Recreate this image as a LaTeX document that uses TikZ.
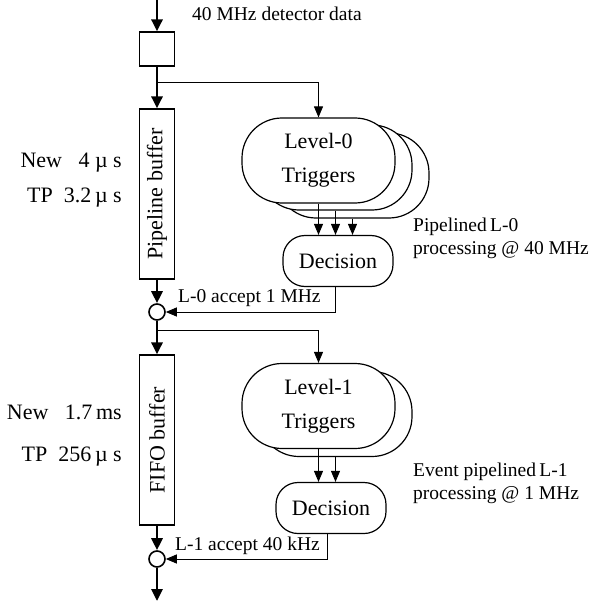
\documentclass[tikz,border=0pt]{standalone}
\usepackage{fontspec}
\setmainfont{Liberation Serif}
\usetikzlibrary{positioning,arrows.meta}

\tikzset{
  bigarrow/.style={line width=2.8pt,-{Triangle[length=12pt,width=11pt]}},
  thinarrow/.style={line width=1pt,-{Triangle[length=11pt,width=9pt]}},
  bufbox/.style={draw,line width=1.2pt,minimum width=35pt,minimum height=170pt,inner sep=0pt,font=\fontsize{22}{24}\selectfont},
  trigbox/.style={draw,line width=1.2pt,fill=white,rounded corners=40pt,minimum width=153pt,minimum height=85pt,align=center,font=\fontsize{22}{34}\selectfont},
  decbox/.style={draw,line width=1.2pt,rounded corners=22pt,minimum width=110pt,minimum height=51pt,font=\fontsize{22}{24}\selectfont},
  sumnode/.style={draw,circle,line width=1.6pt,minimum size=16pt,inner sep=0pt},
  smalllab/.style={font=\fontsize{19.5}{23}\selectfont,inner sep=0pt},
  sidelab/.style={font=\fontsize{22}{24}\selectfont,inner sep=0pt,anchor=east}
}

\begin{document}
\begin{tikzpicture}[x=1pt,y=-1pt]
      \useasboundingbox (0,0) rectangle (593,604);
      % main chain (buffers)
      \coordinate (din) at (157,0);
      \node[draw,line width=1.2pt,minimum width=35pt,minimum height=34pt] (mux) at (157,49) {};
      \node[bufbox] (pipe) at (157,194) {\rotatebox{90}{Pipeline buffer}};
      \node[sumnode] (sum0) at (157,312) {};
      \node[bufbox] (fifo) at (157,440) {\rotatebox{90}{FIFO buffer}};
      \node[sumnode] (sum1) at (157,559) {};
      \coordinate (dout) at (157,601);
      \coordinate (br0) at (157,83);
      \coordinate (br1) at (157,330);

      % level-0 (three stacked boxes)
      \node[trigbox] (trig0c) at (352.5,175.5) {};
      \node[trigbox] (trig0b) at (335.5,167.5) {};
      \node[trigbox] (trig0) at (318.5,160.5) {Level-0\\Triggers};
      \node[decbox] (dec0) at (338,261) {Decision};

      % level-1 (two stacked boxes)
      \node[trigbox] (trig1b) at (335.5,414) {};
      \node[trigbox] (trig1) at (318.5,406) {Level-1\\Triggers};
      \node[decbox] (dec1) at (331,508) {Decision};

      % data flow
      \draw[bigarrow] (din) -- (mux.north);
      \draw[bigarrow] (mux.south) -- (pipe.north);
      \draw[bigarrow] (pipe.south) -- (sum0.north);
      \draw[bigarrow] (sum0.south) -- (fifo.north);
      \draw[bigarrow] (fifo.south) -- (sum1.north);
      \draw[bigarrow] (sum1.south) -- (dout);
      \draw[thinarrow] (br0) -| (trig0.north);
      \draw[thinarrow] (br1) -| (trig1.north);
      \foreach \t in {trig0,trig0b,trig0c}
        \draw[thinarrow] (\t.south) -- (\t.south |- dec0.north);
      \foreach \t in {trig1,trig1b}
        \draw[thinarrow] (\t.south) -- (\t.south |- dec1.north);
      \draw[thinarrow] ([xshift=-3pt]dec0.south) |- (sum0.east);
      \draw[thinarrow] ([xshift=-4pt]dec1.south) |- (sum1.east);

      % labels
      \node[smalllab,anchor=west] (rate) at (192,14) {40 MHz detector data};
      \node[smalllab,anchor=west] (acc0) at (178,298) {L-0 accept 1 MHz};
      \node[smalllab,anchor=west] (acc1) at (175,546) {L-1 accept 40 kHz};
      \node[smalllab,anchor=west,align=left] (proc0) at (413,238) {Pipelined\,L-0\\processing @ 40 MHz};
      \node[smalllab,anchor=west,align=left] (proc1) at (413,483) {Event pipelined\,L-1\\processing @ 1 MHz};
      \node[sidelab] (new0) at (122,163) {New\ \ \ 4\ µ\ s};
      \node[sidelab] (tp0) at (122,198) {TP\ \ 3.2\,µ\ s};
      \node[sidelab] (new1) at (122,412) {New\ \ \ 1.7\,ms};
      \node[sidelab] (tp1) at (122,457) {TP\ \ 256\,µ\ s};
\end{tikzpicture}
\end{document}
